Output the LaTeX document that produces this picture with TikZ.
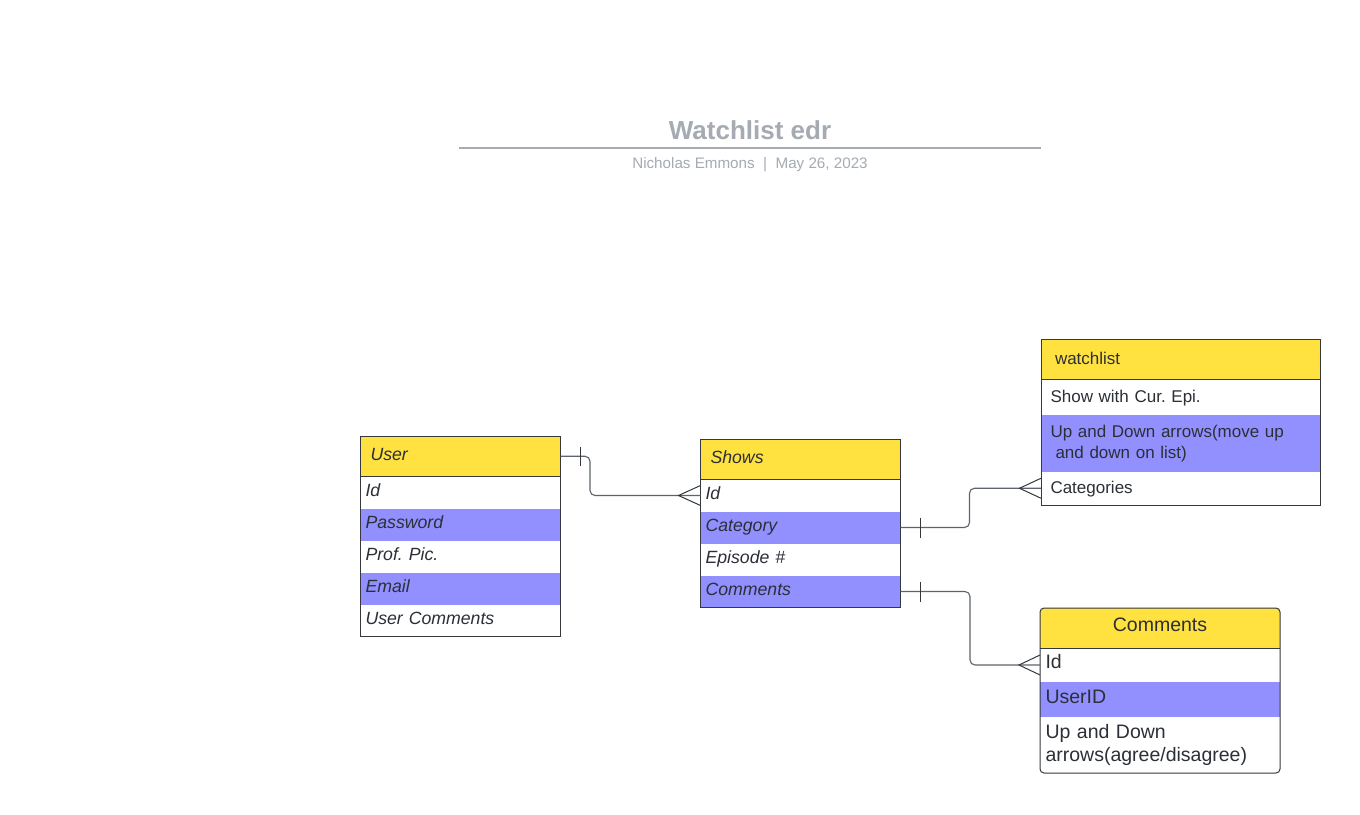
\documentclass[tikz,border=0pt]{standalone}
\usepackage{fontspec}
\setmainfont{Liberation Sans}
\usetikzlibrary{calc}
\definecolor{hdr}{HTML}{FFE140}
\definecolor{band}{HTML}{9290FF}
\definecolor{ink}{HTML}{2B2F36}
\definecolor{edge}{HTML}{35383D}
\definecolor{ttl}{HTML}{A5AAB3}
\definecolor{wire}{HTML}{5D646D}
\frenchspacing
\begin{document}
\frenchspacing
\begin{tikzpicture}[x=1pt,y=-1pt,
  cell/.style={rectangle, anchor=north west, inner ysep=0pt, outer sep=0pt, align=left, text=ink},
  fa/.style={font=\fontsize{17.7}{21}\selectfont\itshape, text height=12.9pt, text depth=5pt},
  fb/.style={font=\fontsize{17}{21}\selectfont},
  fbs/.style={fb, text height=12.5pt, text depth=2pt},
  fc/.style={font=\fontsize{19.5}{23.5}\selectfont},
  fcs/.style={fc, text height=14pt, text depth=6.4pt},
  hdrc/.style={fill=hdr},
  bandc/.style={fill=band},
  box/.style={draw=edge, line width=1pt},
  wirec/.style={draw=wire, line width=1.1pt, rounded corners=5pt},
  tick/.style={draw=edge, line width=1pt}]
\useasboundingbox (0,0) rectangle (1360,814);
\fill[white] (0,0) rectangle (1360,814);

% title
\node[anchor=base, text=ttl, font=\fontsize{26}{30}\selectfont\bfseries] (title) at (750,139) {Watchlist edr};
\draw[ttl, line width=2pt] (459,148) -- (1041,148);
\node[anchor=base, text=ttl, font=\fontsize{15.2}{18}\selectfont] (sub) at (750,168.5) {Nicholas Emmons\ \ |\ \ May 26, 2023};

% User table
\node[cell, fa, hdrc, inner xsep=10pt, text width=180pt, minimum height=40.5pt] (u0) at (360.5,436) {User};
\node[cell, fa, inner xsep=5pt, text width=190pt, minimum height=32pt] (u1) at (360.5,476.5) {Id};
\node[cell, fa, bandc, inner xsep=5pt, text width=190pt, minimum height=32pt] (u2) at (360.5,508.5) {Password};
\node[cell, fa, inner xsep=5pt, text width=190pt, minimum height=32pt] (u3) at (360.5,540.5) {Prof. Pic.};
\node[cell, fa, bandc, inner xsep=5pt, text width=190pt, minimum height=32pt] (u4) at (360.5,572.5) {Email};
\node[cell, fa, inner xsep=5pt, text width=190pt, minimum height=32pt] (u5) at (360.5,604.5) {User Comments};
\draw[box] (u0.north west) rectangle (u5.south east);
\draw[box] (u0.south west) -- (u0.south east);

% Shows table
\node[cell, fa, hdrc, inner xsep=10pt, text width=180pt, minimum height=40pt] (s0) at (700.5,439.5) {Shows};
\node[cell, fa, inner xsep=5pt, text width=190pt, minimum height=32pt] (s1) at (700.5,479.5) {Id};
\node[cell, fa, bandc, inner xsep=5pt, text width=190pt, minimum height=32pt] (s2) at (700.5,511.5) {Category};
\node[cell, fa, inner xsep=5pt, text width=190pt, minimum height=32pt] (s3) at (700.5,543.5) {Episode \#};
\node[cell, fa, bandc, inner xsep=5pt, text width=190pt, minimum height=32pt] (s4) at (700.5,575.5) {Comments};
\draw[box] (s0.north west) rectangle (s4.south east);
\draw[box] (s0.south west) -- (s0.south east);

% watchlist table
\node[cell, fbs, hdrc, inner xsep=14pt, text width=251.5pt, minimum height=40pt] (w0) at (1041,339.5) {watchlist};
\node[cell, fbs, inner xsep=9.5pt, text width=260.5pt, minimum height=35.5pt] (w1) at (1041,379.5) {Show with Cur. Epi.};
\node[cell, fb, bandc, inner xsep=9.5pt, text width=260.5pt, minimum height=56.5pt] (w2) at (1041,415) {Up and Down arrows(move up\\\hspace*{5pt}and down on list)};
\node[cell, fbs, inner xsep=9.5pt, text width=260.5pt, minimum height=33.5pt] (w3) at (1041,471.5) {Categories};
\draw[box] (w0.north west) rectangle (w3.south east);
\draw[box] (w0.south west) -- (w0.south east);

% Comments table
\begin{scope}
\clip[rounded corners=4pt] (1040,608) rectangle (1280,773);
\node[cell, fcs, hdrc, align=center, inner xsep=5pt, text width=230pt, minimum height=40pt] (c0) at (1040,608) {Comments};
\node[cell, fcs, inner xsep=5.5pt, text width=229pt, minimum height=34pt] (c1) at (1040,648) {Id};
\node[cell, fcs, bandc, inner xsep=5.5pt, text width=229pt, minimum height=35pt] (c2) at (1040,682) {UserID};
\node[cell, fc, inner xsep=5.5pt, text width=229pt, minimum height=56pt] (c3) at (1040,717) {Up and Down\\arrows(agree/disagree)};
\end{scope}
\draw[box, rounded corners=4pt] (c0.north west) rectangle (c3.south east);
\draw[box] (c0.south west) -- (c0.south east);

% connectors
\draw[wirec] (u0.east) -- ++(29.5,0) |- (s1.west);
\draw[tick] ([xshift=20pt,yshift=9.5pt]u0.east) -- ([xshift=20pt,yshift=-9.5pt]u0.east);
\draw[tick] ([yshift=10pt]s1.west) -- ([xshift=-22pt]s1.west) -- ([yshift=-10pt]s1.west);

\draw[wirec] (s2.east) -- ++(69,0) |- (w3.west);
\draw[tick] ([xshift=20pt,yshift=10pt]s2.east) -- ([xshift=20pt,yshift=-10pt]s2.east);
\draw[tick] ([yshift=10pt]w3.west) -- ([xshift=-21.5pt]w3.west) -- ([yshift=-10pt]w3.west);

\draw[wirec] (s4.east) -- ++(69.5,0) |- (c1.west);
\draw[tick] ([xshift=20pt,yshift=10pt]s4.east) -- ([xshift=20pt,yshift=-10pt]s4.east);
\draw[tick] ([yshift=10pt]c1.west) -- ([xshift=-21pt]c1.west) -- ([yshift=-10pt]c1.west);
\end{tikzpicture}
\end{document}
